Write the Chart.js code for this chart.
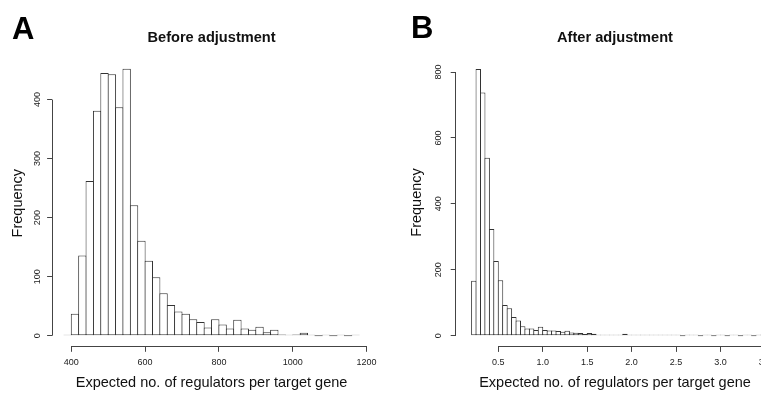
<!DOCTYPE html>
<html>
<head>
<meta charset="utf-8">
<script src="https://cdn.jsdelivr.net/npm/chart.js@4.4.1/dist/chart.umd.min.js"></script>
<style>
  html, body { margin: 0; padding: 0; width: 761px; height: 393px; overflow: hidden; background: #fff; }
  canvas { position: absolute; top: 0; }
  #chart-a { left: 0; }
  #chart-b { left: 380px; }
</style>
</head>
<body>
<canvas id="chart-a" width="440" height="393"></canvas>
<canvas id="chart-b" width="420" height="393"></canvas>
<script>
// panel A: before adjustment (bin width 20)
const beforeBinCenters = [390, 410, 430, 450, 470, 490, 510, 530, 550, 570,
  590, 610, 630, 650, 670, 690, 710, 730, 750, 770,
  790, 810, 830, 850, 870, 890, 910, 930, 950, 970,
  990, 1010, 1030, 1050, 1070, 1090, 1110, 1130, 1150, 1170];
const beforeCounts = [1, 37, 136, 262, 381, 445, 443, 387, 452, 221,
  161, 127, 99, 72, 52, 41, 37, 28, 23, 14,
  28, 19, 12, 27, 12, 10, 15, 6, 10, 2,
  1, 2, 5, 1, 0, 1, 0, 1, 0, 1];
const beforeXTicks = [400, 600, 800, 1000, 1200];
const beforeXLabels = ['400', '600', '800', '1000', '1200'];
const beforeYTicks = [0, 100, 200, 300, 400];
const beforeYLabels = ['0', '100', '200', '300', '400'];

// panel B: after adjustment (bin width 0.05)
const afterBinCenters = [0.225, 0.275, 0.325, 0.375, 0.425, 0.475, 0.525, 0.575, 0.625, 0.675,
  0.725, 0.775, 0.825, 0.875, 0.925, 0.975, 1.025, 1.075, 1.125, 1.175,
  1.225, 1.275, 1.325, 1.375, 1.425, 1.475, 1.525, 1.575, 1.625, 1.675,
  1.725, 1.775, 1.825, 1.875, 1.925, 1.975, 2.025, 2.075, 2.125, 2.175,
  2.225, 2.275, 2.325, 2.375, 2.425, 2.475, 2.525, 2.575, 2.625, 2.675,
  2.725, 2.775, 2.825, 2.875, 2.925, 2.975, 3.025, 3.075, 3.125, 3.175,
  3.225, 3.275, 3.325, 3.375, 3.425, 3.475];
const afterCounts = [167, 809, 738, 540, 324, 227, 168, 93, 83, 57,
  46, 29, 22, 22, 17, 27, 17, 16, 16, 14,
  12, 15, 10, 9, 8, 5, 8, 6, 3, 1,
  1, 1, 3, 1, 6, 1, 1, 3, 1, 1,
  1, 3, 3, 2, 1, 1, 1, 0, 1, 1,
  1, 0, 1, 1, 0, 1, 1, 0, 1, 1,
  0, 1, 1, 0, 1, 1];
const afterXTicks = [0.5, 1.0, 1.5, 2.0, 2.5, 3.0, 3.5];
const afterXLabels = ['0.5', '1.0', '1.5', '2.0', '2.5', '3.0', '3.5'];
const afterYTicks = [0, 200, 400, 600, 800];
const afterYLabels = ['0', '200', '400', '600', '800'];

const FONT = '"Liberation Sans", Arial, Helvetica, sans-serif';
const INK = '#222';

// R-style axes: line only from first to last tick, rotated y labels, panel letter
const rAxes = {
  id: 'rAxes',
  afterDraw(chart, args, opts) {
    const { ctx, chartArea } = chart;
    const xs = chart.scales.x;
    const ys = chart.scales.y;
    const align = (v) => Math.round(v - 0.5) + 0.5;
    ctx.save();
    ctx.strokeStyle = '#444';
    ctx.lineWidth = 1;
    ctx.beginPath();
    const by = align(chartArea.bottom);
    ctx.moveTo(xs.getPixelForValue(opts.xTicks[0]), by);
    ctx.lineTo(xs.getPixelForValue(opts.xTicks[opts.xTicks.length - 1]), by);
    const lx = align(chartArea.left);
    ctx.moveTo(lx, ys.getPixelForValue(opts.yTicks[0]));
    ctx.lineTo(lx, ys.getPixelForValue(opts.yTicks[opts.yTicks.length - 1]));
    ctx.stroke();

    ctx.fillStyle = INK;
    ctx.font = '9px ' + FONT;
    ctx.textAlign = 'center';
    ctx.textBaseline = 'middle';
    opts.yTicks.forEach((v, i) => {
      ctx.save();
      ctx.translate(chartArea.left - opts.yLabelGap, ys.getPixelForValue(v));
      ctx.rotate(-Math.PI / 2);
      ctx.fillText(opts.yLabels[i], 0, 0);
      ctx.restore();
    });

    ctx.fillStyle = '#000';
    ctx.font = 'bold 31px ' + FONT;
    ctx.textAlign = 'left';
    ctx.textBaseline = 'alphabetic';
    ctx.fillText(opts.letter, opts.letterX, opts.letterY);
    ctx.restore();
  }
};

function makeHist(canvasId, p) {
  return new Chart(document.getElementById(canvasId), {
    type: 'bar',
    data: {
      datasets: [{
        data: p.centers.map((c, i) => ({ x: c, y: p.counts[i] })),
        backgroundColor: '#fff',
        borderColor: '#333',
        borderWidth: 1,
        borderSkipped: false,
        minBarLength: 1,
        barPercentage: p.barPercentage,
        categoryPercentage: 1
      }]
    },
    options: {
      responsive: false,
      animation: false,
      layout: { padding: { left: 0, top: 0, bottom: 0, right: p.padRight } },
      plugins: {
        legend: { display: false },
        tooltip: { enabled: false },
        title: {
          display: true,
          text: p.title,
          fullSize: false,
          color: '#111',
          font: { family: FONT, size: 14.6, weight: 'bold' },
          padding: { top: p.titleTop, bottom: p.titleBottom }
        },
        rAxes: {
          xTicks: p.xTicks, yTicks: p.yTicks, yLabels: p.yLabels,
          yLabelGap: p.yLabelGap,
          letter: p.letter, letterX: p.letterX, letterY: p.letterY
        }
      },
      scales: {
        x: {
          type: 'linear',
          min: p.xMin,
          max: p.xMax,
          offset: false,
          border: { display: false },
          grid: { offset: false, drawOnChartArea: false, drawTicks: true, tickLength: 5.5, color: '#444' },
          afterBuildTicks: (s) => { s.ticks = p.xTicks.map((v) => ({ value: v })); },
          afterFit: (s) => { s.height = 393 - p.areaBottom; },
          ticks: {
            autoSkip: false, maxRotation: 0, minRotation: 0, padding: 5,
            color: INK, font: { family: FONT, size: 9 },
            callback: (v) => p.xLabels[p.xTicks.indexOf(v)]
          },
          title: {
            display: true,
            text: 'Expected no. of regulators per target gene',
            color: '#111',
            font: { family: FONT, size: 14.5 },
            padding: { top: 0, bottom: 1.3 }
          }
        },
        y: {
          type: 'linear',
          min: p.yMin,
          max: p.yMax,
          border: { display: false },
          grid: { drawOnChartArea: false, drawTicks: true, tickLength: 5, color: '#444' },
          afterBuildTicks: (s) => { s.ticks = p.yTicks.map((v) => ({ value: v })); },
          afterFit: (s) => { s.width = p.areaLeft; },
          ticks: { display: false },
          title: {
            display: true,
            text: 'Frequency',
            color: '#111',
            font: { family: FONT, size: 14.5 },
            padding: { top: p.yTitlePad, bottom: 0 }
          }
        }
      }
    },
    plugins: [rAxes]
  });
}

makeHist('chart-a', {
  title: 'Before adjustment',
  centers: beforeBinCenters, counts: beforeCounts,
  xTicks: beforeXTicks, xLabels: beforeXLabels,
  yTicks: beforeYTicks, yLabels: beforeYLabels,
  xMin: 348, xMax: 1212, yMin: -18, yMax: 467,
  areaLeft: 52.1, areaBottom: 346.3, padRight: 440 - 371,
  titleTop: 29, titleBottom: 13.5,
  barPercentage: 8.382 / 7.382,
  yLabelGap: 15, yTitlePad: 9.3,
  letter: 'A', letterX: 12, letterY: 38.5
});

makeHist('chart-b', {
  title: 'After adjustment',
  centers: afterBinCenters, counts: afterCounts,
  xTicks: afterXTicks, xLabels: afterXLabels,
  yTicks: afterYTicks, yLabels: afterYLabels,
  xMin: 0.021, xMax: 3.605, yMin: -32.5, yMax: 841,
  areaLeft: 75.7, areaBottom: 346.4, padRight: 420 - 394.3,
  titleTop: 29, titleBottom: 12,
  barPercentage: 5.445 / 4.445,
  yLabelGap: 16.7, yTitlePad: 28.3,
  letter: 'B', letterX: 31, letterY: 38
});
</script>
</body>
</html>
